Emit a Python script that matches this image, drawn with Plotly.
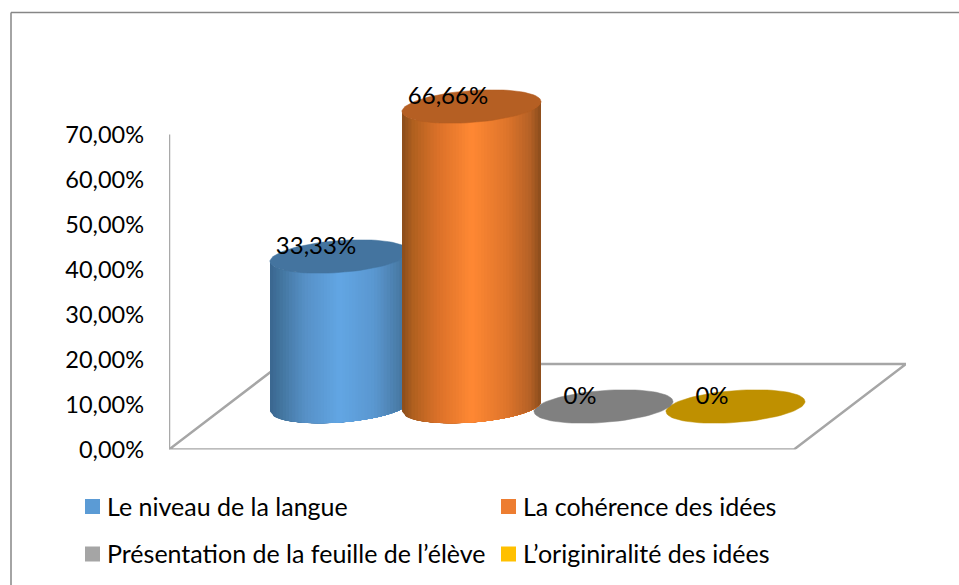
import math

import plotly.graph_objects as go

categories = [
    "Le niveau de la langue",
    "La cohérence des idées",
    "Présentation de la feuille de l’élève",
    "L’originiralité des idées",
]
values = [33.33, 66.66, 0, 0]
value_labels = ["33,33%", "66,66%", "0%", "0%"]
tick_values = [0, 10, 20, 30, 40, 50, 60, 70]
tick_labels = ["0,00%", "10,00%", "20,00%", "30,00%", "40,00%", "50,00%", "60,00%", "70,00%"]

legend_colors = ["#5b9bd5", "#ed7d31", "#a5a5a5", "#ffc000"]
top_colors = ["#44749f", "#b55f23", "#808080", "#bf9000"]
# (position across the cylinder, colour) for the fake 3d shading
shades = [
    [(0, "#3a668f"), (0.08, "#43759f"), (0.25, "#5690c6"), (0.5, "#62a6e4"), (0.75, "#5a97d0"), (0.92, "#4a7ca8"), (1, "#3d6b94")],
    [(0, "#8a4c1c"), (0.08, "#b0601f"), (0.25, "#d97029"), (0.5, "#ff8833"), (0.75, "#df752b"), (0.92, "#b56126"), (1, "#8a4c1c")],
]

WIDTH, HEIGHT = 959, 585
LEFT, RIGHT, TOP, BOTTOM = 169, 906, 13, 449.5
PX_PER_CAT = 132
PX_PER_PCT = 4.5

x_min = 1.5 - (RIGHT - LEFT) / PX_PER_CAT / 2
x_max = 1.5 + (RIGHT - LEFT) / PX_PER_CAT / 2
y_max = (BOTTOM - TOP) / PX_PER_PCT

base = 43 / PX_PER_PCT  # cylinders stand in the middle of the floor
rx = 69.5 / PX_PER_CAT
ry = 16 / PX_PER_PCT
shear = 5 / PX_PER_PCT
floor_dx = 112 / PX_PER_CAT
floor_dy = 85.5 / PX_PER_PCT
STRIPS = 44


def hex_rgb(c):
    return [int(c[i : i + 2], 16) for i in (1, 3, 5)]


def shade_at(stops, f):
    for (a, ca), (b, cb) in zip(stops, stops[1:]):
        if f <= b:
            k = (f - a) / (b - a)
            mix = [round(p + (q - p) * k) for p, q in zip(hex_rgb(ca), hex_rgb(cb))]
            return f"rgb({mix[0]},{mix[1]},{mix[2]})"
    return stops[-1][1]


def lower_edge(cx, level, x):
    c = max(-1, min(1, (x - cx) / rx))
    return level + shear * c - ry * math.sqrt(1 - c * c)


def ellipse(cx, level):
    ts = [2 * math.pi * k / 80 for k in range(81)]
    xs = [cx + rx * math.cos(t) for t in ts]
    ys = [level + shear * math.cos(t) + ry * math.sin(t) for t in ts]
    return xs, ys


def px_x(p):
    return p / WIDTH


def px_y(p):
    return 1 - p / HEIGHT


fig = go.Figure()

# floor of the 3d chart and the value axis
fig.add_trace(
    go.Scatter(
        x=[x_min, x_max - floor_dx, x_max, x_min + floor_dx, x_min],
        y=[0, 0, floor_dy, floor_dy, 0],
        mode="lines",
        line=dict(color="#a6a6a6", width=2.5),
        cliponaxis=False,
        showlegend=False,
        hoverinfo="skip",
    )
)
fig.add_trace(
    go.Scatter(
        x=[x_min, x_min],
        y=[0, tick_values[-1]],
        mode="lines",
        line=dict(color="#a9a9a9", width=2.5),
        cliponaxis=False,
        showlegend=False,
        hoverinfo="skip",
    )
)

# flat ones first, the orange cylinder sits on top of the grey disc
order = [3, 2, 0, 1]
for i in order:
    level = base + values[i]
    if values[i] > 0:
        # each strip runs to the right edge and the next one paints over it, so no seams
        for s in range(STRIPS):
            xa = i - rx + 2 * rx * s / STRIPS
            xb = i + rx
            xs = [xa + (xb - xa) * k / 30 for k in range(31)]
            bottom = [lower_edge(i, base, x) for x in xs]
            top = [lower_edge(i, level, x) for x in reversed(xs)]
            color = shade_at(shades[i], (s + 0.5) / STRIPS)
            fig.add_trace(
                go.Scatter(
                    x=xs + xs[::-1],
                    y=bottom + top,
                    mode="lines",
                    fill="toself",
                    fillcolor=color,
                    line=dict(width=0),
                    showlegend=False,
                    hoverinfo="skip",
                )
            )
    ex, ey = ellipse(i, level)
    fig.add_trace(
        go.Scatter(
            x=ex,
            y=ey,
            mode="lines",
            fill="toself",
            fillcolor=top_colors[i],
            line=dict(color=top_colors[i], width=0.5),
            name=categories[i],
            showlegend=False,
            hoverinfo="skip",
        )
    )

fig.add_trace(
    go.Scatter(
        x=[i - 23.5 / PX_PER_CAT for i in range(len(values))],
        y=[base + v + 9 / PX_PER_PCT for v in values],
        mode="text",
        text=value_labels,
        textposition="middle center",
        textfont=dict(family="Lato", size=24, color="#000000"),
        showlegend=False,
        hoverinfo="skip",
    )
)

shapes = [
    dict(type="line", xref="paper", yref="paper", x0=px_x(11), y0=px_y(12.5), x1=px_x(WIDTH), y1=px_y(12.5), line=dict(color="#868686", width=1.5)),
    dict(type="line", xref="paper", yref="paper", x0=px_x(11), y0=px_y(12.5), x1=px_x(11), y1=0, line=dict(color="#868686", width=1.5)),
]
annotations = []

legend_x = [85, 85 + 416, 85, 85 + 416]
legend_y = [506.5, 506.5, 554, 554]
for name, color, lx, ly in zip(categories, legend_colors, legend_x, legend_y):
    shapes.append(
        dict(
            type="rect",
            xref="paper",
            yref="paper",
            x0=px_x(lx),
            x1=px_x(lx + 15),
            y0=px_y(ly - 7.5),
            y1=px_y(ly + 7.5),
            fillcolor=color,
            line=dict(width=0),
        )
    )
    annotations.append(
        dict(
            xref="paper",
            yref="paper",
            x=px_x(lx + 19.5),
            y=px_y(ly - 1),
            text=name,
            showarrow=False,
            xanchor="left",
            yanchor="middle",
            font=dict(family="Lato", size=25, color="#000000"),
        )
    )

fig.update_layout(
    width=WIDTH,
    height=HEIGHT,
    autosize=False,
    margin=dict(l=0, r=0, t=0, b=0, autoexpand=False),
    paper_bgcolor="white",
    plot_bgcolor="white",
    shapes=shapes,
    annotations=annotations,
    xaxis=dict(
        range=[x_min, x_max],
        domain=[LEFT / WIDTH, RIGHT / WIDTH],
        visible=False,
        fixedrange=True,
    ),
    yaxis=dict(
        range=[0, y_max],
        domain=[1 - BOTTOM / HEIGHT, 1 - TOP / HEIGHT],
        tickmode="array",
        tickvals=tick_values,
        ticktext=tick_labels,
        ticklabelstandoff=24,
        showgrid=False,
        zeroline=False,
        showline=False,
        ticks="",
        tickfont=dict(family="Lato", size=23.5, color="#000000"),
        fixedrange=True,
    ),
)

fig.write_html(
    "out.html",
    config=dict(displayModeBar=False, responsive=False),
    default_width=f"{WIDTH}px",
    default_height=f"{HEIGHT}px",
    post_script="document.body.style.margin='0';",
)
